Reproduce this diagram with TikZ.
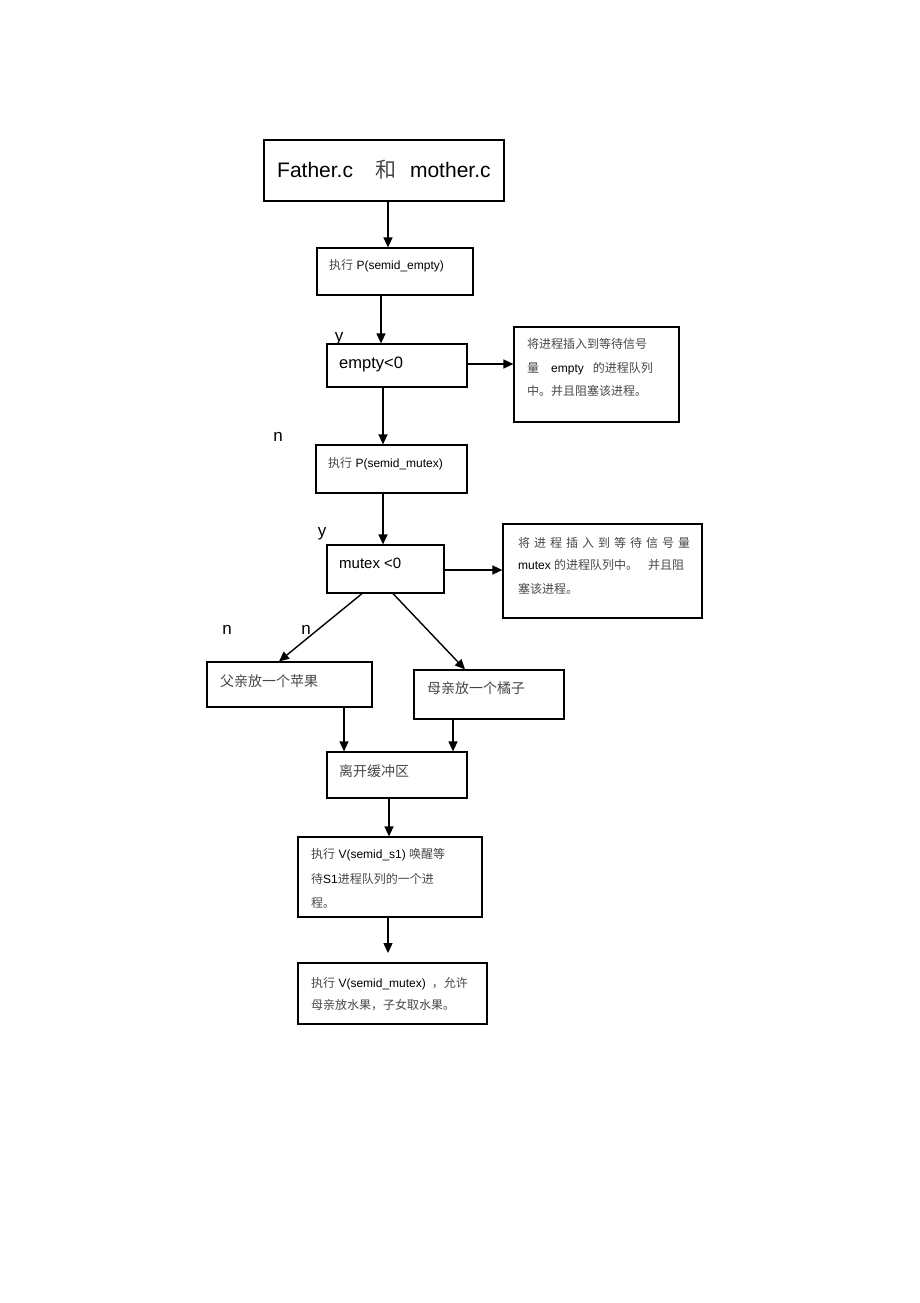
\documentclass[tikz,border=0pt]{standalone}
\usepackage{fontspec}
\setmainfont{Liberation Sans}
\newfontfamily\cjk{Noto Sans CJK SC}
\usetikzlibrary{arrows.meta}
\newcommand{\zh}[1]{{\cjk\color{black!72}#1}}
\begin{document}
\begin{tikzpicture}[x=1pt,y=-1pt,
  box/.style={draw, line width=1.2pt, inner sep=0pt},
  arr/.style={line width=1.4pt, -{Triangle[length=10pt,width=9pt]}},
  txt/.style={anchor=base west, inner sep=0pt},
  lbl/.style={font=\fontsize{17}{17}\selectfont, inner sep=0pt}]
\useasboundingbox (0,0) rectangle (920,1303);
% boxes
\node[box, minimum width=240pt, minimum height=61pt] (b1) at (384,170.5) {};
\node[box, minimum width=156pt, minimum height=47pt] (b2) at (395,271.5) {};
\node[box, minimum width=140pt, minimum height=43pt] (b3) at (397,365.5) {};
\node[box, minimum width=165pt, minimum height=95pt] (b4) at (596.5,374.5) {};
\node[box, minimum width=151pt, minimum height=48pt] (b5) at (391.5,469) {};
\node[box, minimum width=117pt, minimum height=48pt] (b6) at (385.5,569) {};
\node[box, minimum width=199pt, minimum height=94pt] (b7) at (602.5,571) {};
\node[box, minimum width=165pt, minimum height=45pt] (b8) at (289.5,684.5) {};
\node[box, minimum width=150pt, minimum height=49pt] (b9) at (489,694.5) {};
\node[box, minimum width=140pt, minimum height=46pt] (b10) at (397,775) {};
\node[box, minimum width=184pt, minimum height=80pt] (b11) at (390,877) {};
\node[box, minimum width=189pt, minimum height=61pt] (b12) at (392.5,993.5) {};
% texts
\node[txt, font=\fontsize{21}{21}\selectfont] at (277,177) {Father.c\hspace{22pt}\zh{和}\hspace{14pt}mother.c};
\node[txt, font=\fontsize{12}{12}\selectfont] at (329,269) {\zh{执行} P(semid\_empty)};
\node[txt, font=\fontsize{16.5}{16.5}\selectfont] at (339,368) {empty<0};
\node[txt, font=\fontsize{12}{12}\selectfont] at (527,348) {\zh{将进程插入到等待信号}};
\node[txt, font=\fontsize{12}{12}\selectfont] at (527,372) {\zh{量}\hspace{12pt}empty\hspace{9pt}\zh{的进程队列}};
\node[txt, font=\fontsize{12}{12}\selectfont] at (527,395) {\zh{中。并且阻塞该进程。}};
\node[txt, font=\fontsize{12}{12}\selectfont] at (328,467) {\zh{执行} P(semid\_mutex)};
\node[txt, font=\fontsize{15}{15}\selectfont] at (339,568) {mutex <0};
\node[txt, font=\fontsize{12}{12}\selectfont] at (518,547) {\makebox[172pt][s]{\zh{将 进 程 插 入 到 等 待 信 号 量}}};
\node[txt, font=\fontsize{12}{12}\selectfont] at (518,569) {mutex \zh{的进程队列中。}\hspace{10pt}\zh{并且阻}};
\node[txt, font=\fontsize{12}{12}\selectfont] at (518,593) {\zh{塞该进程。}};
\node[txt, font=\fontsize{14}{14}\selectfont] at (220,686) {\zh{父亲放一个苹果}};
\node[txt, font=\fontsize{14}{14}\selectfont] at (427,693) {\zh{母亲放一个橘子}};
\node[txt, font=\fontsize{14}{14}\selectfont] at (339,776) {\zh{离开缓冲区}};
\node[txt, font=\fontsize{12}{12}\selectfont] at (311,858) {\zh{执行} V(semid\_s1) \zh{唤醒等}};
\node[txt, font=\fontsize{12}{12}\selectfont] at (311,883) {\zh{待}S1\zh{进程队列的一个进}};
\node[txt, font=\fontsize{12}{12}\selectfont] at (311,907) {\zh{程。}};
\node[txt, font=\fontsize{12}{12}\selectfont] at (311,987) {\zh{执行} V(semid\_mutex)\hspace{6pt}\zh{，允许}};
\node[txt, font=\fontsize{12}{12}\selectfont] at (311,1009) {\zh{母亲放水果，子女取水果。}};
% labels
\node[lbl] (ly1) at (339,339) {y};
\node[lbl] (ln1) at (278,437) {n};
\node[lbl] (ly2) at (322,534) {y};
\node[lbl] (ln2) at (227,630) {n};
\node[lbl] (ln3) at (306,630) {n};
% connectors
\draw[arr] (b1.south -| 388,0) -- (b2.north -| 388,0);
\draw[arr] (b2.south -| 381,0) -- (b3.north -| 381,0);
\draw[arr] (b3.south -| 383,0) -- (b5.north -| 383,0);
\draw[arr] (b3.east |- 0,364) -- (b4.west |- 0,364);
\draw[arr] (b5.south -| 383,0) -- (b6.north -| 383,0);
\draw[arr] (b6.east |- 0,570) -- (b7.west |- 0,570);
\draw[arr] (b6.south -| 362,0) -- (b8.north -| 279,0);
\draw[arr] (b6.south -| 393,0) -- (b9.north -| 465,0);
\draw[arr] (b8.south -| 344,0) -- (b10.north -| 344,0);
\draw[arr] (b9.south -| 453,0) -- (b10.north -| 453,0);
\draw[arr] (b10.south -| 389,0) -- (b11.north -| 389,0);
\coordinate (t12) at (388,953);
\draw[arr] (b11.south -| 388,0) -- (t12);
\end{tikzpicture}
\end{document}
